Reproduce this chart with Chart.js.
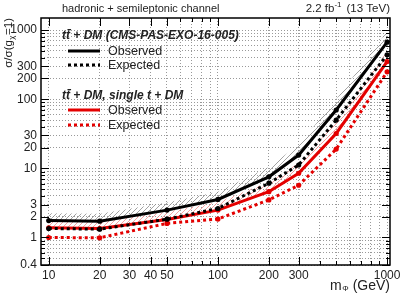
<!DOCTYPE html>
<html>
<head>
<meta charset="utf-8">
<script src="https://cdn.jsdelivr.net/npm/chart.js@4"></script>
<style>
  html, body { margin: 0; padding: 0; background: #fff; }
  #wrap { width: 411px; height: 295px; }
</style>
</head>
<body>
<div id="wrap"><canvas id="limitChart"></canvas></div>
<script>
// mediator masses (GeV)
const masses = [10, 20, 50, 100, 200, 300, 500, 1000];

// tt + DM (CMS-PAS-EXO-16-005)
const ttObserved = [1.76, 1.72, 2.49, 3.55, 7.55, 15.6, 70, 670];
const ttExpected = [1.35, 1.32, 1.84, 2.63, 6.1, 11.2, 50, 440];
const ttHatchTop = [2.25, 2.2, 3.2, 4.6, 10.5, 22, 100, 960];

// tt + DM, single t + DM
const comboObserved = [1.38, 1.35, 1.82, 2.49, 4.6, 8.5, 32, 351];
const comboExpected = [1.0, 0.99, 1.6, 1.85, 3.5, 5.7, 19, 250];
const comboHatchTop = [1.75, 1.72, 2.35, 3.25, 6.4, 12, 46, 500];

// axis ticks
const xTicks = [10, 20, 30, 40, 50, 60, 70, 80, 90, 100, 200, 300, 400, 500, 600, 700, 800, 900, 1000];
const xLabels = [10, 20, 30, 40, 50, 100, 200, 300, 1000];
const yTicks = [0.4, 0.5, 0.6, 0.7, 0.8, 0.9, 1, 2, 3, 4, 5, 6, 7, 8, 9, 10, 20, 30, 40, 50, 60, 70, 80, 90,
                100, 200, 300, 400, 500, 600, 700, 800, 900, 1000];
const yLabels = [0.4, 1, 2, 3, 10, 20, 30, 100, 200, 300, 1000];

const RED = 'rgb(228,0,0)';
const FONT = '"Liberation Sans", Arial, sans-serif';

function pts(arr) {
  return masses.map((m, i) => ({ x: m, y: arr[i] }));
}

// diagonal hatch like ROOT fill style
function hatch(color) {
  const c = document.createElement('canvas');
  c.width = 5; c.height = 5;
  const g = c.getContext('2d');
  g.strokeStyle = color;
  g.lineWidth = 0.8;
  g.beginPath();
  g.moveTo(0, 5); g.lineTo(5, 0);
  g.moveTo(-1, 1); g.lineTo(1, -1);
  g.moveTo(4, 6); g.lineTo(6, 4);
  g.stroke();
  return g.createPattern(c, 'repeat');
}

// frame, tick marks, titles and legend
const decor = {
  id: 'decor',
  afterDraw(chart) {
    const ctx = chart.ctx;
    const a = chart.chartArea;
    const xs = chart.scales.x, ys = chart.scales.y;
    ctx.save();
    ctx.strokeStyle = '#000';
    ctx.lineWidth = 1;
    ctx.setLineDash([]);
    ctx.beginPath();
    xTicks.forEach(v => {
      const px = Math.round(xs.getPixelForValue(v)) + 0.5;
      const len = xLabels.includes(v) ? 8 : 4;
      ctx.moveTo(px, a.bottom); ctx.lineTo(px, a.bottom - len);
      ctx.moveTo(px, a.top); ctx.lineTo(px, a.top + len);
    });
    yTicks.forEach(v => {
      const py = Math.round(ys.getPixelForValue(v)) + 0.5;
      const len = yLabels.includes(v) ? 8 : 4;
      ctx.moveTo(a.left, py); ctx.lineTo(a.left + len, py);
      ctx.moveTo(a.right, py); ctx.lineTo(a.right - len, py);
    });
    ctx.stroke();
    ctx.lineWidth = 1.5;
    ctx.strokeRect(a.left, a.top, a.right - a.left, a.bottom - a.top);

    // header texts
    ctx.fillStyle = '#222';
    ctx.textBaseline = 'middle';
    ctx.font = '11px ' + FONT;
    ctx.textAlign = 'left';
    ctx.fillText('hadronic + semileptonic channel', 62, 9);
    ctx.textAlign = 'right';
    ctx.font = '11.5px ' + FONT;
    ctx.fillText('(13 TeV)', 390, 9);
    let w = ctx.measureText('(13 TeV)').width + 5;
    ctx.font = '8px ' + FONT;
    ctx.fillText('-1', 390 - w, 5);
    w += ctx.measureText('-1').width;
    ctx.font = '11.5px ' + FONT;
    ctx.fillText('2.2 fb', 390 - w, 9);

    // x title
    ctx.font = '14px ' + FONT;
    ctx.textAlign = 'right';
    ctx.fillText('(GeV)', 390, 286);
    let tw = ctx.measureText('(GeV)').width + 4;
    ctx.font = '8px ' + FONT;
    ctx.fillText('\u03A6', 390 - tw, 289);
    tw += ctx.measureText('\u03A6').width + 0.5;
    ctx.font = '14px ' + FONT;
    ctx.fillText('m', 390 - tw, 286);

    // y title, rotated, right aligned at top
    ctx.save();
    ctx.translate(9, 18);
    ctx.rotate(-Math.PI / 2);
    ctx.textAlign = 'right';
    ctx.font = '11.5px ' + FONT;
    ctx.fillText('=1)', 0, 0);
    let yw = ctx.measureText('=1)').width + 0.5;
    ctx.font = '8px ' + FONT;
    ctx.fillText('\u03C7', -yw, 3);
    yw += ctx.measureText('\u03C7').width + 0.5;
    ctx.font = '11.5px ' + FONT;
    ctx.fillText('\u03C3/\u03C3(g', -yw, 0);
    ctx.restore();

    // legend
    ctx.textAlign = 'left';
    ctx.font = 'italic bold 12px ' + FONT;
    ctx.fillText('tt\u0304 + DM (CMS-PAS-EXO-16-005)', 62, 36);
    ctx.fillText('tt\u0304 + DM, single t + DM', 62, 96);
    ctx.font = '12.5px ' + FONT;
    const entries = [
      ['Observed', '#000', [], 51],
      ['Expected', '#000', [3, 3], 65],
      ['Observed', RED, [], 110],
      ['Expected', RED, [3, 3], 125]
    ];
    entries.forEach(e => {
      ctx.strokeStyle = e[1];
      ctx.lineWidth = 3;
      ctx.setLineDash(e[2]);
      ctx.beginPath();
      ctx.moveTo(68, e[3]); ctx.lineTo(100, e[3]);
      ctx.stroke();
      ctx.setLineDash([]);
      ctx.fillStyle = '#222';
      ctx.fillText(e[0], 108, e[3] + 0.5);
    });
    ctx.restore();
  }
};

const ctx = document.getElementById('limitChart').getContext('2d');

const lineStyle = {
  borderWidth: 3,
  pointRadius: 2.6,
  pointBorderWidth: 0,
  fill: false
};

const myChart = new Chart(ctx, {
  type: 'line',
  data: {
    datasets: [
      Object.assign({
        label: 'tt+DM observed',
        data: pts(ttObserved),
        borderColor: '#000',
        backgroundColor: '#000'
      }, lineStyle),
      Object.assign({
        label: 'tt+DM expected',
        data: pts(ttExpected),
        borderColor: '#000',
        backgroundColor: '#000',
        borderDash: [3, 3]
      }, lineStyle),
      Object.assign({
        label: 'combined observed',
        data: pts(comboObserved),
        borderColor: RED,
        backgroundColor: RED
      }, lineStyle),
      Object.assign({
        label: 'combined expected',
        data: pts(comboExpected),
        borderColor: RED,
        backgroundColor: RED,
        borderDash: [3, 3]
      }, lineStyle),
      {
        label: 'tt+DM hatch',
        data: pts(ttHatchTop),
        borderColor: 'rgba(0,0,0,0)',
        borderWidth: 0,
        pointRadius: 0,
        backgroundColor: hatch('#8a8a8a'),
        fill: 0
      },
      {
        label: 'combined hatch',
        data: pts(comboHatchTop),
        borderColor: 'rgba(0,0,0,0)',
        borderWidth: 0,
        pointRadius: 0,
        backgroundColor: hatch('#f08a8a'),
        fill: 2
      }
    ]
  },
  options: {
    responsive: true,
    maintainAspectRatio: false,
    animation: false,
    events: [],
    layout: { padding: { top: 18, right: 21, left: 0, bottom: 0 } },
    plugins: {
      legend: { display: false },
      tooltip: { enabled: false }
    },
    elements: { line: { tension: 0 } },
    scales: {
      x: {
        type: 'logarithmic',
        min: 9,
        max: 1040,
        afterBuildTicks: s => { s.ticks = xTicks.map(v => ({ value: v })); },
        afterFit: s => { s.height = 30; },
        grid: { color: '#999', drawTicks: false, lineWidth: 1 },
        border: { display: false, dash: [1, 2] },
        ticks: {
          autoSkip: false,
          maxRotation: 0,
          padding: 3,
          color: '#222',
          font: { family: FONT, size: 12 },
          callback: v => xLabels.includes(v) ? String(v) : ''
        }
      },
      y: {
        type: 'logarithmic',
        min: 0.4,
        max: 1500,
        afterBuildTicks: s => { s.ticks = yTicks.map(v => ({ value: v })); },
        afterFit: s => { s.width = 41; },
        grid: { color: '#999', drawTicks: false, lineWidth: 1 },
        border: { display: false, dash: [1, 2] },
        ticks: {
          autoSkip: false,
          padding: 4,
          color: '#222',
          font: { family: FONT, size: 12 },
          callback: v => yLabels.includes(v) ? String(v) : ''
        }
      }
    }
  },
  plugins: [decor]
});
</script>
</body>
</html>
